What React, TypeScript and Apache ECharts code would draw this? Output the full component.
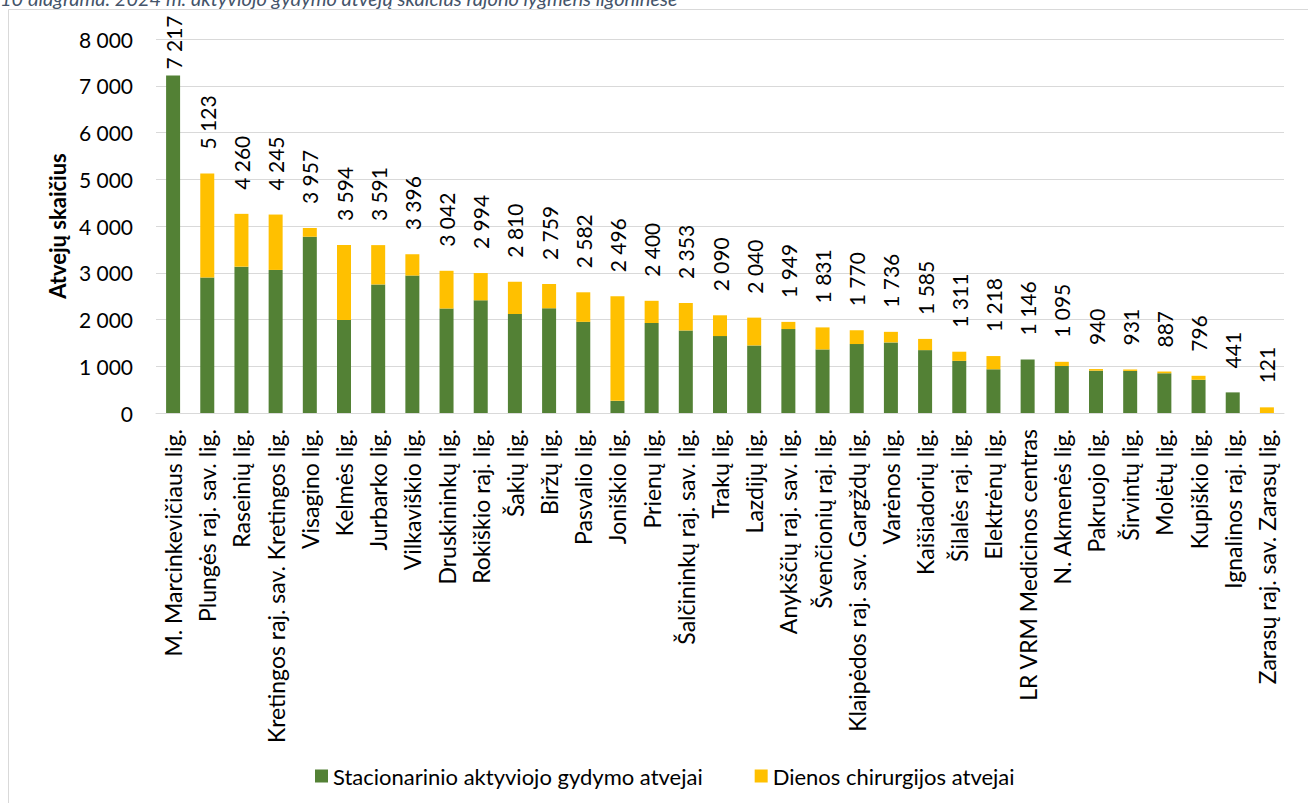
import React, { useEffect, useRef } from "react";
import * as echarts from "echarts";

const categories: string[] = [
  "M. Marcinkevičiaus lig.", "Plungės raj. sav. lig.", "Raseinių lig.", "Kretingos raj. sav. Kretingos lig.",
  "Visagino lig.", "Kelmės lig.", "Jurbarko lig.", "Vilkaviškio lig.", "Druskininkų lig.", "Rokiškio raj. lig.",
  "Šakių lig.", "Biržų lig.", "Pasvalio lig.", "Joniškio lig.", "Prienų lig.", "Šalčininkų raj. sav. lig.",
  "Trakų lig.", "Lazdijų lig.", "Anykščių raj. sav. lig.", "Švenčionių raj. lig.", "Klaipėdos raj. sav. Gargždų lig.",
  "Varėnos lig.", "Kaišiadorių lig.", "Šilalės raj. lig.", "Elektrėnų lig.", "LR VRM Medicinos centras",
  "N. Akmenės lig.", "Pakruojo lig.", "Širvintų lig.", "Molėtų lig.", "Kupiškio lig.", "Ignalinos raj. lig.",
  "Zarasų raj. sav. Zarasų lig.",
];

const totals: number[] = [
  7217, 5123, 4260, 4245, 3957, 3594, 3591, 3396, 3042, 2994, 2810, 2759, 2582, 2496, 2400, 2353,
  2090, 2040, 1949, 1831, 1770, 1736, 1585, 1311, 1218, 1146, 1095, 940, 931, 887, 796, 441, 121,
];

const inpatient: number[] = [
  7217, 2900, 3130, 3060, 3770, 1990, 2750, 2940, 2235, 2410, 2115, 2240, 1950, 260, 1925, 1765,
  1645, 1445, 1795, 1360, 1475, 1510, 1345, 1115, 935, 1146, 1005, 905, 900, 850, 710, 441, 0,
];

const daySurgery: number[] = [
  0, 2223, 1130, 1185, 187, 1604, 841, 456, 807, 584, 695, 519, 632, 2236, 475, 588,
  445, 595, 154, 471, 295, 226, 240, 196, 283, 0, 90, 35, 31, 37, 86, 0, 121,
];

const seriesNames: string[] = ["Stacionarinio aktyviojo gydymo atvejai", "Dienos chirurgijos atvejai"];
const titleText = "10 diagrama. 2024 m. aktyviojo gydymo atvejų skaičius rajono lygmens ligoninėse";
const yAxisName = "Atvejų skaičius";

const fmt = (n: number): string => String(n).replace(/\B(?=(\d{3})+(?!\d))/g, " ");

const FONT = "Lato, 'Noto Sans', sans-serif";

export default function App() {
  const ref = useRef<HTMLDivElement>(null);
  useEffect(() => {
    if (!ref.current) return;
    const chart = echarts.init(ref.current, undefined, { renderer: "svg" });
    const totalData = totals.map((v, i) =>
      i === 0 ? { value: v, label: { distance: 6 } } : { value: v }
    );
    chart.setOption({
      animation: false,
      backgroundColor: "#ffffff",
      textStyle: { fontFamily: FONT },
      graphic: [
        {
          type: "rect",
          shape: { x: 8.5, y: 9.5, width: 1400, height: 900 },
          style: { fill: "none", stroke: "#d9d9d9", lineWidth: 1 },
          silent: true,
        },
        {
          type: "text",
          x: 0,
          y: -12,
          style: {
            text: titleText,
            fill: "#44546A",
            font: `italic 20px ${FONT}`,
          },
          silent: true,
        },
      ],
      legend: {
        data: seriesNames,
        left: 310,
        top: 760,
        icon: "rect",
        itemWidth: 13,
        itemHeight: 13,
        itemGap: 52,
        textStyle: { fontSize: 22, color: "#000", fontFamily: FONT },
      },
      grid: { left: 156, right: 24, top: 39, bottom: 390, containLabel: false },
      xAxis: {
        type: "category",
        data: categories,
        axisLine: { lineStyle: { color: "#d9d9d9", width: 1 } },
        axisTick: { show: false },
        axisLabel: {
          rotate: 90,
          interval: 0,
          fontSize: 23,
          color: "#000",
          margin: 16,
          fontFamily: FONT,
        },
      },
      yAxis: {
        type: "value",
        min: 0,
        max: 8000,
        interval: 1000,
        name: yAxisName,
        nameLocation: "middle",
        nameGap: 88,
        nameTextStyle: { fontSize: 22, fontWeight: "bold", color: "#000", fontFamily: FONT },
        axisLine: { show: false },
        axisTick: { show: false },
        splitLine: { lineStyle: { color: "#d9d9d9", width: 1 } },
        axisLabel: { formatter: (v: number) => fmt(v), fontSize: 21, color: "#000", margin: 23, fontFamily: FONT },
      },
      series: [
        {
          name: seriesNames[0],
          type: "bar",
          stack: "a",
          data: inpatient,
          barWidth: 14,
          itemStyle: { color: "#538135" },
        },
        {
          name: seriesNames[1],
          type: "bar",
          stack: "a",
          data: daySurgery,
          barWidth: 14,
          itemStyle: { color: "#FFC000" },
        },
        {
          name: "Iš viso",
          type: "bar",
          data: totalData,
          barWidth: 14,
          barGap: "-100%",
          z: 1,
          itemStyle: { color: "rgba(0,0,0,0)" },
          label: {
            show: true,
            position: "top",
            rotate: 90,
            align: "left",
            verticalAlign: "middle",
            distance: 24,
            fontSize: 21,
            color: "#000",
            fontFamily: FONT,
            formatter: (p: any) => fmt(p.value),
          },
        },
      ],
    });
    return () => chart.dispose();
  }, []);
  return (
    <div
      ref={ref}
      style={{ position: "absolute", left: 0, top: 0, width: 1308, height: 803 }}
    />
  );
}
